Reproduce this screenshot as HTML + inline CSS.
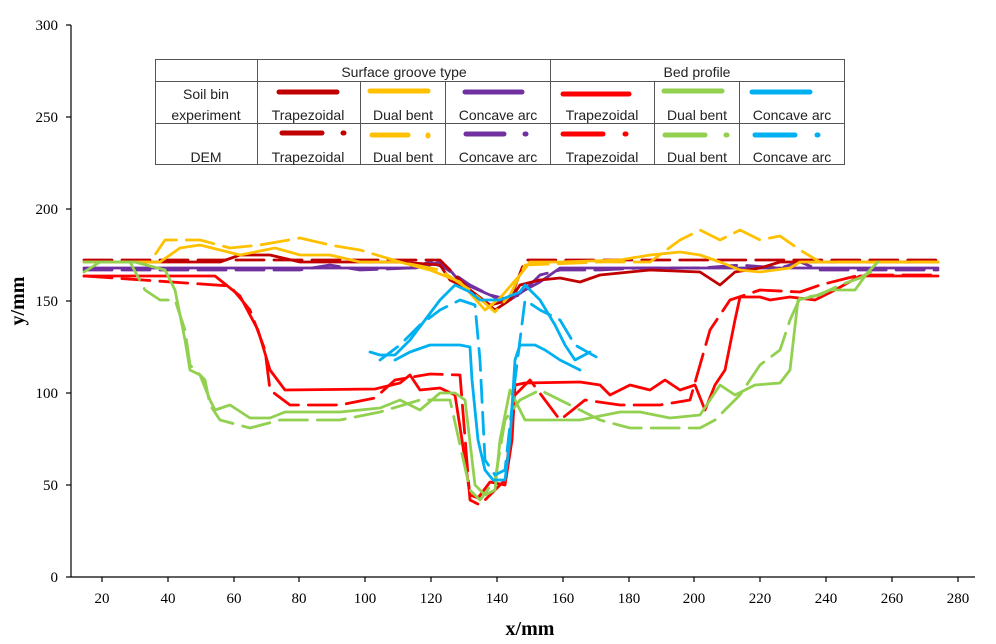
<!DOCTYPE html><html><head><style>body{margin:0;background:#fff}svg{display:block}</style></head><body>
<svg width="996" height="644" xmlns="http://www.w3.org/2000/svg" font-family="Liberation Serif, serif">
<g stroke="#000" stroke-width="1.2">
<line x1="71" y1="25" x2="71" y2="577"/><line x1="71" y1="577" x2="975" y2="577"/>
<line x1="66" y1="25" x2="71" y2="25"/><line x1="66" y1="117" x2="71" y2="117"/><line x1="66" y1="209" x2="71" y2="209"/><line x1="66" y1="301" x2="71" y2="301"/><line x1="66" y1="393" x2="71" y2="393"/><line x1="66" y1="485" x2="71" y2="485"/><line x1="66" y1="577" x2="71" y2="577"/>
<line x1="102" y1="577" x2="102" y2="582"/><line x1="168" y1="577" x2="168" y2="582"/><line x1="234" y1="577" x2="234" y2="582"/><line x1="299" y1="577" x2="299" y2="582"/><line x1="365" y1="577" x2="365" y2="582"/><line x1="431" y1="577" x2="431" y2="582"/><line x1="497" y1="577" x2="497" y2="582"/><line x1="563" y1="577" x2="563" y2="582"/><line x1="629" y1="577" x2="629" y2="582"/><line x1="694" y1="577" x2="694" y2="582"/><line x1="760" y1="577" x2="760" y2="582"/><line x1="826" y1="577" x2="826" y2="582"/><line x1="892" y1="577" x2="892" y2="582"/><line x1="958" y1="577" x2="958" y2="582"/>
</g>
<g font-size="15" text-anchor="end">
<text x="58" y="30">300</text><text x="58" y="122">250</text><text x="58" y="214">200</text><text x="58" y="306">150</text><text x="58" y="398">100</text><text x="58" y="490">50</text><text x="58" y="582">0</text></g>
<g font-size="15" text-anchor="middle">
<text x="102" y="603">20</text><text x="168" y="603">40</text><text x="234" y="603">60</text><text x="299" y="603">80</text><text x="365" y="603">100</text><text x="431" y="603">120</text><text x="497" y="603">140</text><text x="563" y="603">160</text><text x="629" y="603">180</text><text x="694" y="603">200</text><text x="760" y="603">220</text><text x="826" y="603">240</text><text x="892" y="603">260</text><text x="958" y="603">280</text></g>
<text x="530" y="635" font-size="20" font-weight="bold" text-anchor="middle">x/mm</text>
<text transform="translate(24,301) rotate(-90)" font-size="20" font-weight="bold" text-anchor="middle">y/mm</text>
<g fill="none" stroke-width="2.8" stroke-linejoin="round" stroke-linecap="round">
<polyline stroke="#7030A0" points="84,268 415,268 430,265 440,262 450,270 460,282 490,295 510,300 525,290 540,282 560,268 938,268"/>
<polyline stroke="#7030A0" stroke-dasharray="28,10" points="84,270 300,270 330,265 360,270 410,268 430,262 445,268 470,285 500,300 520,295 540,275 560,270 600,270 640,268 700,268 740,265 780,268 800,262 820,270 938,270"/>
<polyline stroke="#C00000" points="84,262 220,262 240,255 270,255 300,262 400,262 440,265 450,280 470,290 490,305 510,300 520,285 540,280 560,278 580,282 600,275 620,273 650,270 700,272 720,285 735,272 760,268 780,262 938,262"/>
<polyline stroke="#C00000" stroke-dasharray="28,10" points="84,260 440,260 455,275 470,290 495,310 510,300 525,260 938,260"/>
<polyline stroke="#FFC000" points="84,262 160,262 180,248 200,245 240,255 275,248 300,255 330,255 360,262 400,262 430,270 460,282 485,310 500,298 520,275 530,262 560,262 620,260 650,255 680,252 700,255 720,262 740,270 760,272 790,268 800,262 938,262"/>
<polyline stroke="#FFC000" stroke-dasharray="28,10" points="84,262 150,262 165,240 200,240 230,248 260,245 300,238 330,245 360,250 400,262 440,270 470,290 495,312 510,295 525,265 600,262 650,262 680,240 700,230 720,240 740,230 760,240 780,236 800,250 820,262 938,262"/>
<polyline stroke="#FF0000" points="84,276 215,276 240,296 258,330 270,370 285,390 375,389 400,383 410,375 420,390 440,388 455,395 462,440 470,495 478,498 490,482 505,485 512,440 515,385 525,383 580,382 600,385 610,395 630,385 650,390 665,380 680,390 695,385 705,410 715,385 725,370 735,320 740,297 760,297 770,300 790,297 815,300 835,290 860,276 938,276"/>
<polyline stroke="#FF0000" stroke-dasharray="28,10" points="84,276 230,286 250,310 265,350 270,390 290,405 340,405 375,398 395,380 430,374 460,375 470,500 480,505 490,495 505,480 515,395 530,380 560,420 585,400 620,405 660,405 690,400 710,330 730,300 760,290 800,292 820,285 860,275 938,275"/>
<polyline stroke="#92D050" points="84,272 100,262 135,262 165,270 175,290 185,340 190,370 200,375 210,400 215,410 230,405 250,418 270,418 285,412 340,412 380,408 400,400 420,410 440,393 455,393 465,400 475,485 485,495 495,490 500,440 510,390 525,420 580,420 605,415 620,412 640,412 670,418 700,415 720,385 735,395 755,385 780,383 790,370 798,300 815,296 830,290 855,290 868,272 878,262"/>
<polyline stroke="#92D050" stroke-dasharray="28,10" points="84,262 130,262 145,290 160,300 175,300 185,330 190,365 205,380 210,405 220,420 250,428 280,420 340,420 380,412 420,400 450,400 470,490 480,500 495,480 505,420 520,400 540,390 560,400 600,420 630,428 700,428 715,420 740,395 760,365 780,350 790,320 800,298 820,295 840,285 860,278 878,268"/>
<polyline stroke="#00B0F0" points="370,352 380,355 395,355 410,340 425,320 440,300 455,285 470,292 480,300 500,300 520,292 525,285 540,300 555,325 565,345 575,360 590,352"/>
<polyline stroke="#00B0F0" points="395,360 410,352 430,345 460,345 470,347 472,380 478,440 485,470 493,480 505,480 510,440 515,360 520,345 535,345 545,350 560,360 580,370"/>
<polyline stroke="#00B0F0" stroke-dasharray="22,10" points="380,360 400,345 420,325 440,310 460,300 475,305 480,360 485,460 495,475 505,470 515,380 525,300 540,310 560,320 575,345 598,358"/>
</g>
<g stroke="#555" stroke-width="1" fill="none">
<rect x="155.5" y="59.5" width="689" height="105"/>
<line x1="155" y1="81.5" x2="845" y2="81.5"/><line x1="155" y1="123.5" x2="845" y2="123.5"/>
<line x1="257.5" y1="59" x2="257.5" y2="165"/><line x1="550.5" y1="59" x2="550.5" y2="165"/>
<line x1="360.5" y1="81" x2="360.5" y2="165"/><line x1="445.5" y1="81" x2="445.5" y2="165"/><line x1="654.5" y1="81" x2="654.5" y2="165"/><line x1="739.5" y1="81" x2="739.5" y2="165"/>
</g>
<g font-family="Liberation Sans, sans-serif" font-size="14" text-anchor="middle" fill="#222">
<text x="404" y="77">Surface groove type</text><text x="697" y="77">Bed profile</text>
<text x="206" y="99">Soil bin</text><text x="206" y="120">experiment</text><text x="206" y="162">DEM</text>
<text x="308" y="120">Trapezoidal</text><text x="403" y="120">Dual bent</text><text x="498" y="120">Concave arc</text><text x="602" y="120">Trapezoidal</text><text x="697" y="120">Dual bent</text><text x="792" y="120">Concave arc</text>
<text x="308" y="162">Trapezoidal</text><text x="403" y="162">Dual bent</text><text x="498" y="162">Concave arc</text><text x="602" y="162">Trapezoidal</text><text x="697" y="162">Dual bent</text><text x="792" y="162">Concave arc</text>
</g>
<g stroke-width="5" stroke-linecap="round">
<line x1="279" y1="92" x2="337" y2="92" stroke="#C00000"/><line x1="370" y1="91" x2="428" y2="91" stroke="#FFC000"/><line x1="465" y1="92" x2="522" y2="92" stroke="#7030A0"/><line x1="563" y1="94" x2="629" y2="94" stroke="#FF0000"/><line x1="664" y1="91" x2="722" y2="91" stroke="#92D050"/><line x1="752" y1="92" x2="810" y2="92" stroke="#00B0F0"/>
<line x1="282" y1="133" x2="322" y2="133" stroke="#C00000"/><line x1="372" y1="135" x2="408" y2="135" stroke="#FFC000"/><line x1="466" y1="134" x2="504" y2="134" stroke="#7030A0"/><line x1="563" y1="134" x2="603" y2="134" stroke="#FF0000"/><line x1="665" y1="135" x2="705" y2="135" stroke="#92D050"/><line x1="755" y1="135" x2="795" y2="135" stroke="#00B0F0"/>
<line x1="343" y1="133" x2="344" y2="133" stroke="#C00000"/><line x1="428" y1="135" x2="428" y2="136" stroke="#FFC000"/><line x1="525" y1="134" x2="526" y2="134" stroke="#7030A0"/><line x1="625" y1="134" x2="626" y2="134" stroke="#FF0000"/><line x1="726" y1="135" x2="727" y2="135" stroke="#92D050"/><line x1="817" y1="135" x2="818" y2="135" stroke="#00B0F0"/>
</g>
</svg></body></html>
